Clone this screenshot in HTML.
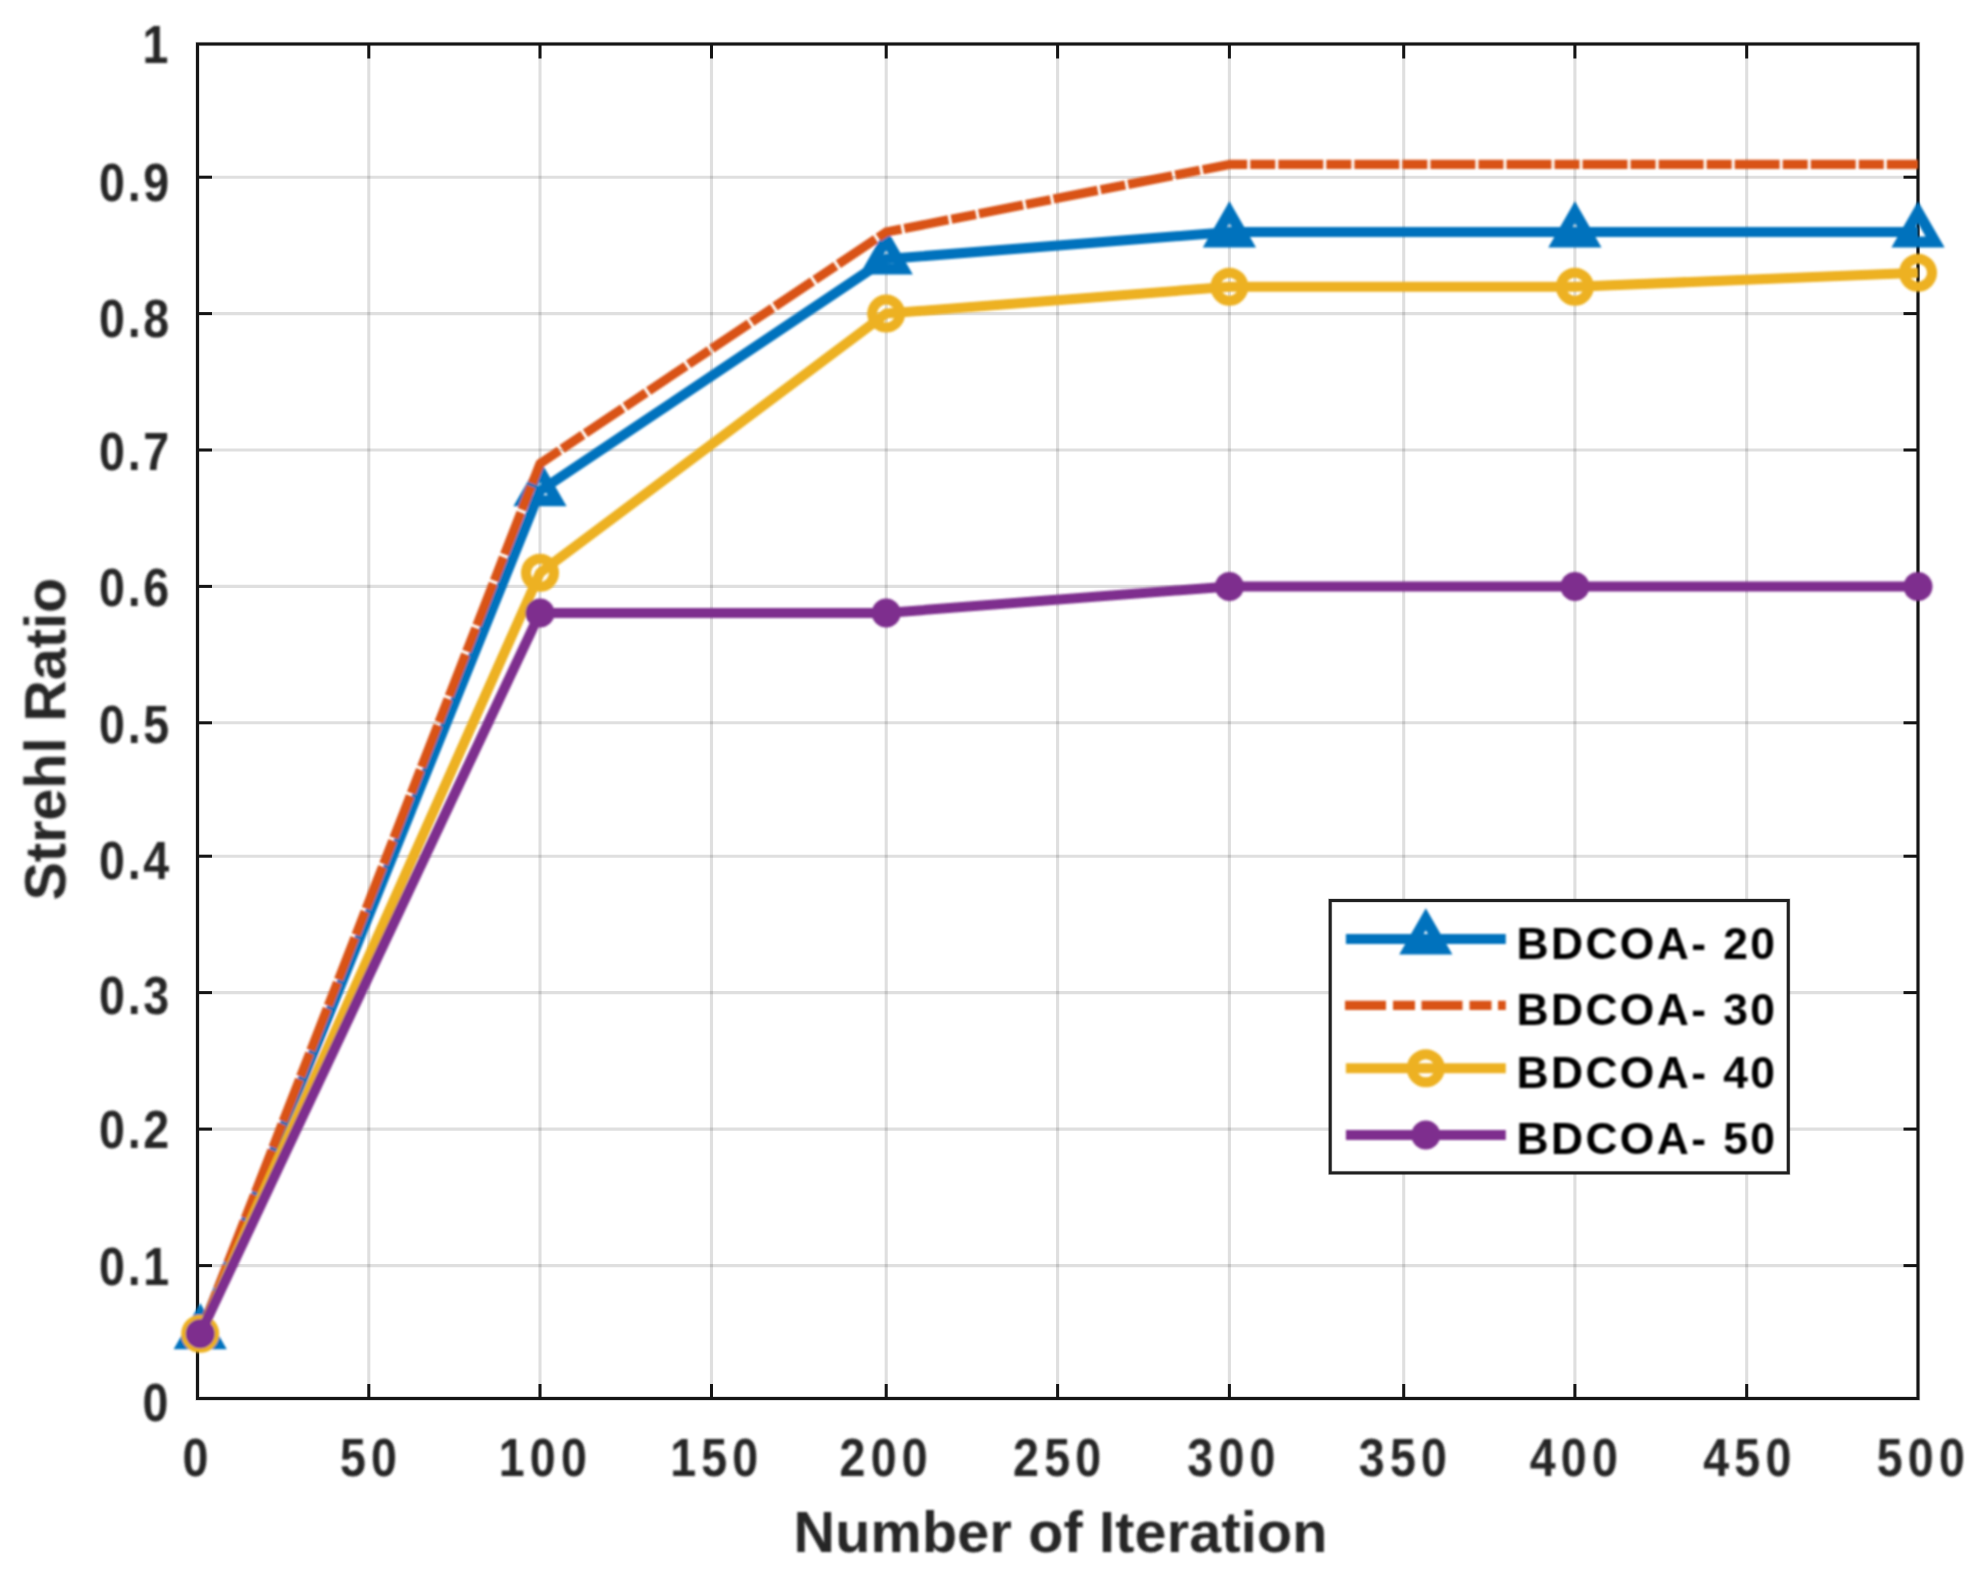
<!DOCTYPE html>
<html lang="en"><head><meta charset="utf-8"><title>Strehl Ratio vs Number of Iteration</title>
<style>html,body{margin:0;padding:0;background:#fff}body{width:1983px;height:1584px;overflow:hidden}svg{display:block}text{font-family:"Liberation Sans",Arial,Helvetica,sans-serif;font-weight:bold;fill:#262626}</style></head><body>
<svg width="1983" height="1584" viewBox="0 0 1983 1584">
<defs><filter id="fb" filterUnits="userSpaceOnUse" x="0" y="0" width="1983" height="1584"><feGaussianBlur stdDeviation="0.9"/></filter></defs>
<rect width="1983" height="1584" fill="#fff"/>
<g><g stroke="#262626" stroke-opacity="0.15" stroke-width="3.1">
<line x1="368.8" y1="44" x2="368.8" y2="1398.5"/>
<line x1="540.0" y1="44" x2="540.0" y2="1398.5"/>
<line x1="711.5" y1="44" x2="711.5" y2="1398.5"/>
<line x1="886.2" y1="44" x2="886.2" y2="1398.5"/>
<line x1="1057.6" y1="44" x2="1057.6" y2="1398.5"/>
<line x1="1229.4" y1="44" x2="1229.4" y2="1398.5"/>
<line x1="1403.7" y1="44" x2="1403.7" y2="1398.5"/>
<line x1="1574.9" y1="44" x2="1574.9" y2="1398.5"/>
<line x1="1746.7" y1="44" x2="1746.7" y2="1398.5"/>
<line x1="197.5" y1="177.2" x2="1918" y2="177.2"/>
<line x1="197.5" y1="313.6" x2="1918" y2="313.6"/>
<line x1="197.5" y1="450.0" x2="1918" y2="450.0"/>
<line x1="197.5" y1="586.4" x2="1918" y2="586.4"/>
<line x1="197.5" y1="722.8" x2="1918" y2="722.8"/>
<line x1="197.5" y1="856.2" x2="1918" y2="856.2"/>
<line x1="197.5" y1="992.6" x2="1918" y2="992.6"/>
<line x1="197.5" y1="1129.1" x2="1918" y2="1129.1"/>
<line x1="197.5" y1="1265.6" x2="1918" y2="1265.6"/>
</g>
<g stroke="#141414" stroke-width="3" fill="none">
<rect x="197.5" y="44" width="1720.5" height="1354.5" stroke-opacity="0.2" stroke-width="4.3"/>
<rect x="197.5" y="44" width="1720.5" height="1354.5"/>
<line x1="368.8" y1="1398.5" x2="368.8" y2="1384.0"/>
<line x1="368.8" y1="44" x2="368.8" y2="58.5"/>
<line x1="540.0" y1="1398.5" x2="540.0" y2="1384.0"/>
<line x1="540.0" y1="44" x2="540.0" y2="58.5"/>
<line x1="711.5" y1="1398.5" x2="711.5" y2="1384.0"/>
<line x1="711.5" y1="44" x2="711.5" y2="58.5"/>
<line x1="886.2" y1="1398.5" x2="886.2" y2="1384.0"/>
<line x1="886.2" y1="44" x2="886.2" y2="58.5"/>
<line x1="1057.6" y1="1398.5" x2="1057.6" y2="1384.0"/>
<line x1="1057.6" y1="44" x2="1057.6" y2="58.5"/>
<line x1="1229.4" y1="1398.5" x2="1229.4" y2="1384.0"/>
<line x1="1229.4" y1="44" x2="1229.4" y2="58.5"/>
<line x1="1403.7" y1="1398.5" x2="1403.7" y2="1384.0"/>
<line x1="1403.7" y1="44" x2="1403.7" y2="58.5"/>
<line x1="1574.9" y1="1398.5" x2="1574.9" y2="1384.0"/>
<line x1="1574.9" y1="44" x2="1574.9" y2="58.5"/>
<line x1="1746.7" y1="1398.5" x2="1746.7" y2="1384.0"/>
<line x1="1746.7" y1="44" x2="1746.7" y2="58.5"/>
<line x1="197.5" y1="177.2" x2="212.0" y2="177.2"/>
<line x1="1918" y1="177.2" x2="1903.5" y2="177.2"/>
<line x1="197.5" y1="313.6" x2="212.0" y2="313.6"/>
<line x1="1918" y1="313.6" x2="1903.5" y2="313.6"/>
<line x1="197.5" y1="450.0" x2="212.0" y2="450.0"/>
<line x1="1918" y1="450.0" x2="1903.5" y2="450.0"/>
<line x1="197.5" y1="586.4" x2="212.0" y2="586.4"/>
<line x1="1918" y1="586.4" x2="1903.5" y2="586.4"/>
<line x1="197.5" y1="722.8" x2="212.0" y2="722.8"/>
<line x1="1918" y1="722.8" x2="1903.5" y2="722.8"/>
<line x1="197.5" y1="856.2" x2="212.0" y2="856.2"/>
<line x1="1918" y1="856.2" x2="1903.5" y2="856.2"/>
<line x1="197.5" y1="992.6" x2="212.0" y2="992.6"/>
<line x1="1918" y1="992.6" x2="1903.5" y2="992.6"/>
<line x1="197.5" y1="1129.1" x2="212.0" y2="1129.1"/>
<line x1="1918" y1="1129.1" x2="1903.5" y2="1129.1"/>
<line x1="197.5" y1="1265.6" x2="212.0" y2="1265.6"/>
<line x1="1918" y1="1265.6" x2="1903.5" y2="1265.6"/>
</g></g><g filter="url(#fb)">
<path d="M200.2 1333.8 L540.0 490.9 L886.2 259.0 L1229.4 232.1 L1574.9 232.1 L1918.0 232.1" fill="none" stroke="#0072BD" stroke-width="10" stroke-linejoin="round"/>
<polygon points="200.2,1314.0 217.3,1343.7 183.1,1343.7" fill="none" stroke="#0072BD" stroke-width="11" stroke-linejoin="miter"/>
<polygon points="540.0,471.1 557.1,500.8 522.9,500.8" fill="none" stroke="#0072BD" stroke-width="11" stroke-linejoin="miter"/>
<polygon points="886.2,239.2 903.3,268.9 869.1,268.9" fill="none" stroke="#0072BD" stroke-width="11" stroke-linejoin="miter"/>
<polygon points="1229.4,212.3 1246.5,242.0 1212.3,242.0" fill="none" stroke="#0072BD" stroke-width="11" stroke-linejoin="miter"/>
<polygon points="1574.9,212.3 1592.0,242.0 1557.8,242.0" fill="none" stroke="#0072BD" stroke-width="11" stroke-linejoin="miter"/>
<polygon points="1918.0,212.3 1935.1,242.0 1900.9,242.0" fill="none" stroke="#0072BD" stroke-width="11" stroke-linejoin="miter"/>
<path d="M200.2 1333.8 L540.0 463.6 L886.2 232.1 L1229.4 164.4 L1574.9 164.4 L1918.0 164.4" fill="none" stroke="#D95319" stroke-width="9.2" stroke-linejoin="round" stroke-dasharray="45 3 25.06 3" stroke-dashoffset="0"/>
<path d="M200.2 1333.8 L540.0 572.8 L886.2 313.6 L1229.4 286.7 L1574.9 286.7 L1918.0 272.7" fill="none" stroke="#EDB120" stroke-width="10" stroke-linejoin="round"/>
<circle cx="200.2" cy="1333.8" r="14" fill="none" stroke="#EDB120" stroke-width="10"/>
<circle cx="540.0" cy="572.8" r="14" fill="none" stroke="#EDB120" stroke-width="10"/>
<circle cx="886.2" cy="313.6" r="14" fill="none" stroke="#EDB120" stroke-width="10"/>
<circle cx="1229.4" cy="286.7" r="14" fill="none" stroke="#EDB120" stroke-width="10"/>
<circle cx="1574.9" cy="286.7" r="14" fill="none" stroke="#EDB120" stroke-width="10"/>
<circle cx="1918.0" cy="272.7" r="14" fill="none" stroke="#EDB120" stroke-width="10"/>
<path d="M200.2 1333.8 L540.0 612.9 L886.2 612.9 L1229.4 586.4 L1574.9 586.4 L1918.0 586.4" fill="none" stroke="#7E2F8E" stroke-width="10" stroke-linejoin="round"/>
<circle cx="200.2" cy="1333.8" r="14.5" fill="#7E2F8E"/>
<circle cx="540.0" cy="612.9" r="14.5" fill="#7E2F8E"/>
<circle cx="886.2" cy="612.9" r="14.5" fill="#7E2F8E"/>
<circle cx="1229.4" cy="586.4" r="14.5" fill="#7E2F8E"/>
<circle cx="1574.9" cy="586.4" r="14.5" fill="#7E2F8E"/>
<circle cx="1918.0" cy="586.4" r="14.5" fill="#7E2F8E"/>
<g transform="translate(168.5 63.1) scale(0.87 1)"><text font-size="53.5" text-anchor="end" letter-spacing="0">1</text></g>
<g transform="translate(172.0 200.6) scale(0.87 1)"><text font-size="53.5" text-anchor="end" letter-spacing="3.15">0.9</text></g>
<g transform="translate(172.0 337.0) scale(0.87 1)"><text font-size="53.5" text-anchor="end" letter-spacing="3.15">0.8</text></g>
<g transform="translate(172.0 469.5) scale(0.87 1)"><text font-size="53.5" text-anchor="end" letter-spacing="3.15">0.7</text></g>
<g transform="translate(172.0 606.3) scale(0.87 1)"><text font-size="53.5" text-anchor="end" letter-spacing="3.15">0.6</text></g>
<g transform="translate(172.0 742.7) scale(0.87 1)"><text font-size="53.5" text-anchor="end" letter-spacing="3.15">0.5</text></g>
<g transform="translate(172.0 878.9) scale(0.87 1)"><text font-size="53.5" text-anchor="end" letter-spacing="3.15">0.4</text></g>
<g transform="translate(172.0 1014.3) scale(0.87 1)"><text font-size="53.5" text-anchor="end" letter-spacing="3.15">0.3</text></g>
<g transform="translate(172.0 1148.0) scale(0.87 1)"><text font-size="53.5" text-anchor="end" letter-spacing="3.15">0.2</text></g>
<g transform="translate(172.0 1284.9) scale(0.87 1)"><text font-size="53.5" text-anchor="end" letter-spacing="3.15">0.1</text></g>
<g transform="translate(168.5 1421.0) scale(0.87 1)"><text font-size="53.5" text-anchor="end" letter-spacing="0">0</text></g>
<g transform="translate(195.4 1476.1) scale(0.87 1)"><text font-size="53.5" text-anchor="middle" letter-spacing="0">0</text></g>
<g transform="translate(371.0 1476.1) scale(0.87 1)"><text font-size="53.5" text-anchor="middle" letter-spacing="6">50</text></g>
<g transform="translate(545.4 1476.1) scale(0.87 1)"><text font-size="53.5" text-anchor="middle" letter-spacing="6">100</text></g>
<g transform="translate(716.8 1476.1) scale(0.87 1)"><text font-size="53.5" text-anchor="middle" letter-spacing="6">150</text></g>
<g transform="translate(886.2 1476.1) scale(0.87 1)"><text font-size="53.5" text-anchor="middle" letter-spacing="6">200</text></g>
<g transform="translate(1059.7 1476.1) scale(0.87 1)"><text font-size="53.5" text-anchor="middle" letter-spacing="6">250</text></g>
<g transform="translate(1234.0 1476.1) scale(0.87 1)"><text font-size="53.5" text-anchor="middle" letter-spacing="6">300</text></g>
<g transform="translate(1405.5 1476.1) scale(0.87 1)"><text font-size="53.5" text-anchor="middle" letter-spacing="6">350</text></g>
<g transform="translate(1576.4 1476.1) scale(0.87 1)"><text font-size="53.5" text-anchor="middle" letter-spacing="6">400</text></g>
<g transform="translate(1749.9 1476.1) scale(0.87 1)"><text font-size="53.5" text-anchor="middle" letter-spacing="6">450</text></g>
<g transform="translate(1923.4 1476.1) scale(0.87 1)"><text font-size="53.5" text-anchor="middle" letter-spacing="6">500</text></g>
<text x="1060.6" y="1552.4" font-size="57.5" text-anchor="middle" letter-spacing="0.2">Number of Iteration</text>
<text transform="translate(65.3 739.2) rotate(-90)" font-size="57.5" text-anchor="middle">Strehl Ratio</text>
</g><rect x="1330.2" y="900.5" width="458.1" height="272.4" fill="#fff" stroke="#202020" stroke-opacity="0.2" stroke-width="4.3"/><rect x="1330.2" y="900.5" width="458.1" height="272.4" fill="none" stroke="#202020" stroke-width="3"/><g filter="url(#fb)">
<line x1="1345.9" y1="939.0" x2="1505.8" y2="939.0" stroke="#0072BD" stroke-width="10"/>
<polygon points="1425.8,919.2 1442.9,948.9 1408.7,948.9" fill="none" stroke="#0072BD" stroke-width="11" stroke-linejoin="miter"/>
<text x="1516.5" y="958.5" font-size="44.4" letter-spacing="2.4" style="fill:#000">BDCOA- 20</text>
<line x1="1345.0" y1="1005.4" x2="1505.8" y2="1005.4" stroke="#D95319" stroke-width="9.2" stroke-dasharray="41 7 22 6.5"/>
<text x="1516.5" y="1024.9" font-size="44.4" letter-spacing="2.4" style="fill:#000">BDCOA- 30</text>
<line x1="1345.9" y1="1068.3" x2="1505.8" y2="1068.3" stroke="#EDB120" stroke-width="10"/>
<circle cx="1425.8" cy="1068.3" r="14" fill="none" stroke="#EDB120" stroke-width="10"/>
<text x="1516.5" y="1087.8" font-size="44.4" letter-spacing="2.4" style="fill:#000">BDCOA- 40</text>
<line x1="1345.9" y1="1134.9" x2="1505.8" y2="1134.9" stroke="#7E2F8E" stroke-width="10"/>
<circle cx="1425.8" cy="1134.9" r="14.5" fill="#7E2F8E"/>
<text x="1516.5" y="1154.4" font-size="44.4" letter-spacing="2.4" style="fill:#000">BDCOA- 50</text>
</g></svg></body></html>
